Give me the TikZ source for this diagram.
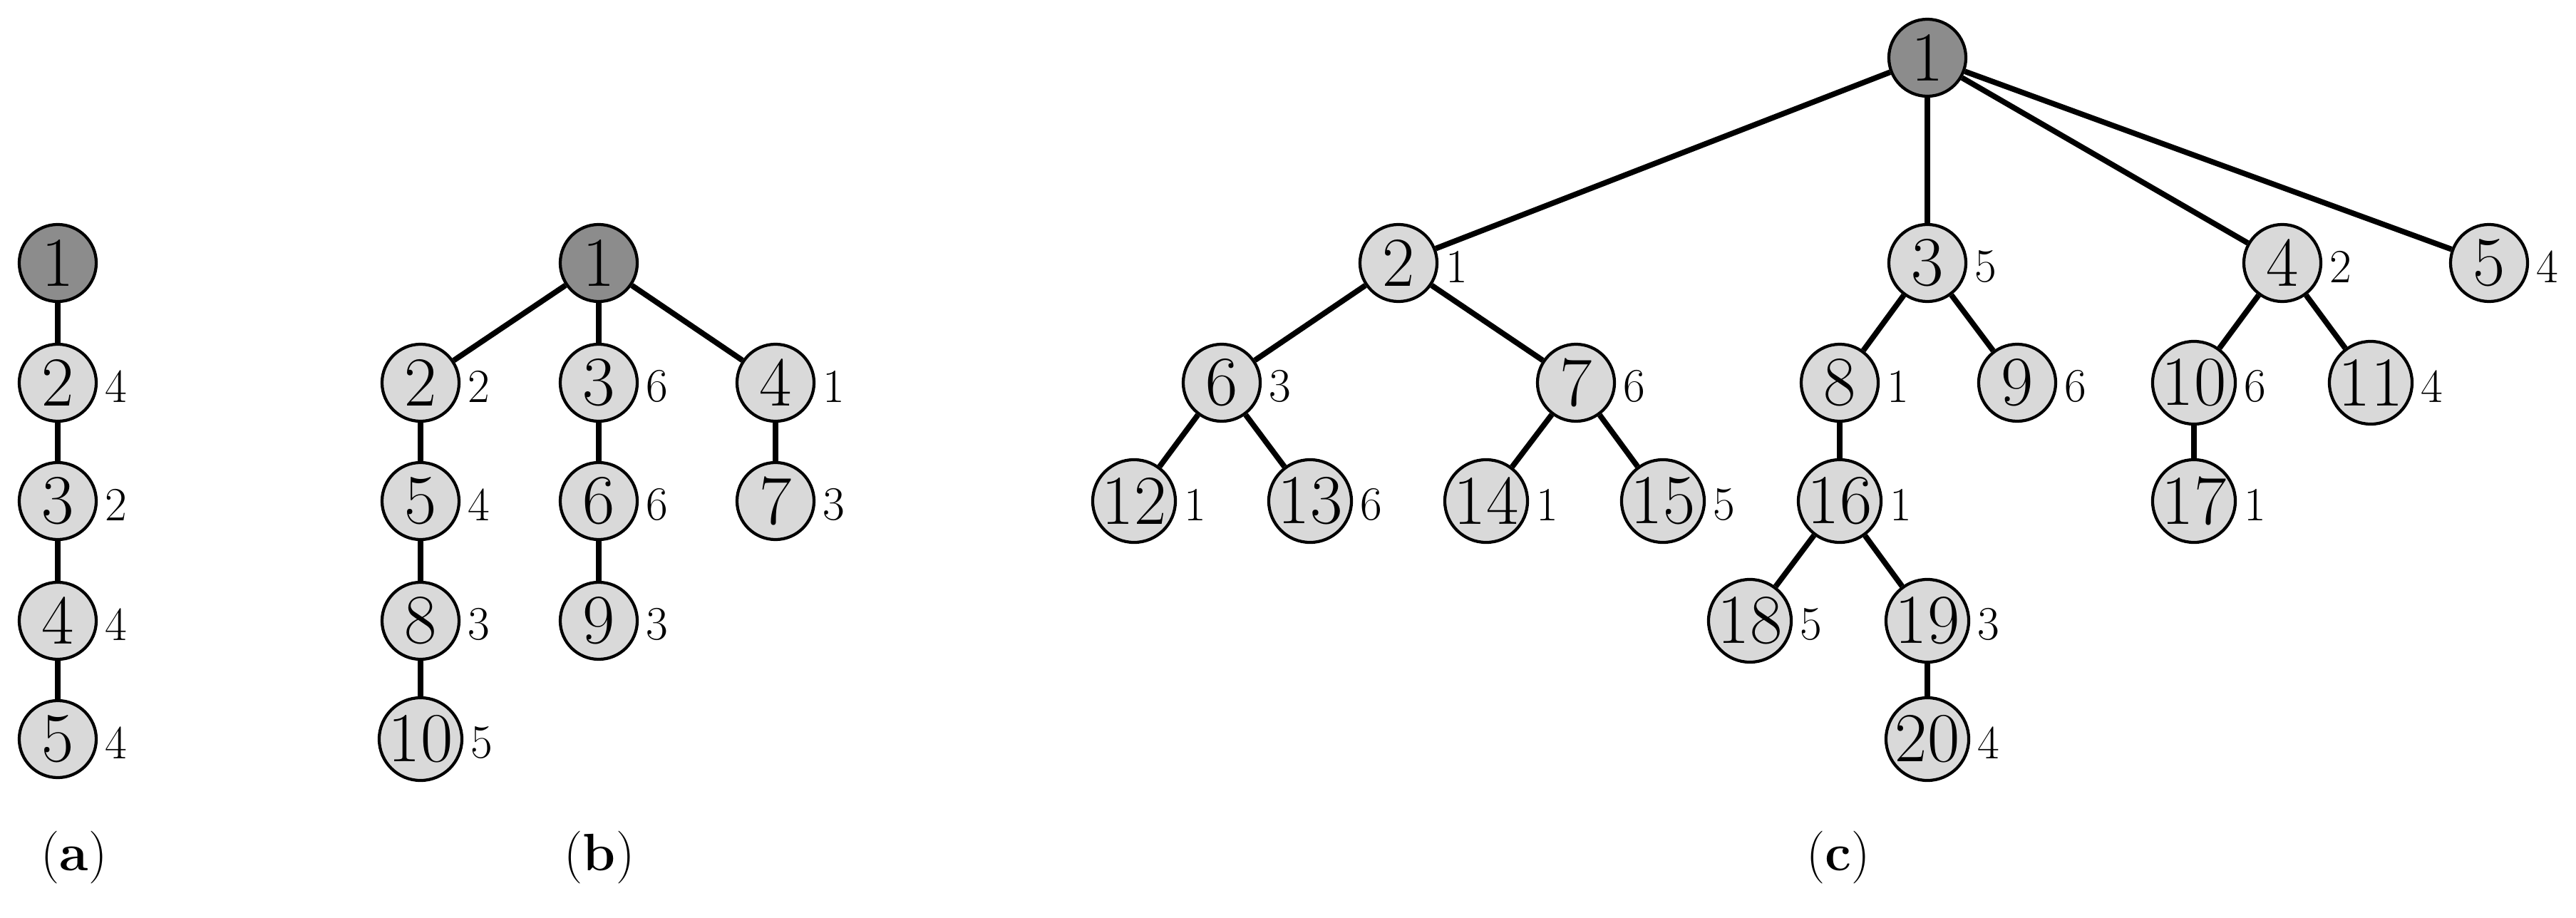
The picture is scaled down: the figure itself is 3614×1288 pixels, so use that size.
\documentclass[tikz,border=0pt]{standalone}
\definecolor{rootfill}{RGB}{140,140,140}
\definecolor{lightfill}{RGB}{217,217,217}
\tikzset{
  vtx/.style={circle, draw, line width=1.2pt, fill=lightfill, minimum size=1.08cm, inner sep=0pt,
    font=\fontsize{28}{30}\selectfont},
  vtxw/.style={vtx, minimum size=1.16cm},
  rootv/.style={vtx, fill=rootfill},
  wt/.style={label={[font=\fontsize{19}{21}\selectfont, inner sep=0pt, label distance=0.1cm, yshift=-0.05cm]0:#1}},
  edge/.style={line width=2.2pt},
  captext/.style={font=\fontsize{21}{25}\selectfont, inner sep=0pt}
}
\newcommand{\nz}[1]{\makebox[0pt]{#1}}
\begin{document}
\begin{tikzpicture}[x=0.01cm, y=-0.01cm]
\useasboundingbox (0,0) rectangle (3614,1288);
% (a)
\node[rootv] (a1) at (81,369) {\nz{1}};
\node[vtx, wt=4] (a2) at (81,537) {\nz{2}};
\node[vtx, wt=2] (a3) at (81,703) {\nz{3}};
\node[vtx, wt=4] (a4) at (81,871) {\nz{4}};
\node[vtx, wt=4] (a5) at (81,1037) {\nz{5}};
\draw[edge] (a1) -- (a2) (a2) -- (a3) (a3) -- (a4) (a4) -- (a5);
% (b)
\node[rootv] (b1) at (840,369) {\nz{1}};
\node[vtx, wt=2] (b2) at (590,537) {\nz{2}};
\node[vtx, wt=6] (b3) at (840,537) {\nz{3}};
\node[vtx, wt=1] (b4) at (1088,537) {\nz{4}};
\node[vtx, wt=4] (b5) at (590,703) {\nz{5}};
\node[vtx, wt=6] (b6) at (840,703) {\nz{6}};
\node[vtx, wt=3] (b7) at (1088,703) {\nz{7}};
\node[vtx, wt=3] (b8) at (590,871) {\nz{8}};
\node[vtx, wt=3] (b9) at (840,871) {\nz{9}};
\node[vtxw, wt=5] (b10) at (590,1037) {\nz{10}};
\draw[edge] (b1) -- (b2) (b1) -- (b3) (b1) -- (b4)
  (b2) -- (b5) (b5) -- (b8) (b8) -- (b10)
  (b3) -- (b6) (b6) -- (b9) (b4) -- (b7);
% (c)
\node[rootv] (c1) at (2704,81) {\nz{1}};
\node[vtx, wt=1] (c2) at (1962,369) {\nz{2}};
\node[vtx, wt=5] (c3) at (2704,369) {\nz{3}};
\node[vtx, wt=2] (c4) at (3202,369) {\nz{4}};
\node[vtx, wt=4] (c5) at (3492,369) {\nz{5}};
\node[vtx, wt=3] (c6) at (1714,537) {\nz{6}};
\node[vtx, wt=6] (c7) at (2211,537) {\nz{7}};
\node[vtx, wt=1] (c8) at (2581,537) {\nz{8}};
\node[vtx, wt=6] (c9) at (2830,537) {\nz{9}};
\node[vtxw, wt=6] (c10) at (3078,537) {\nz{10}};
\node[vtxw, wt=4] (c11) at (3326,537) {\nz{11}};
\node[vtxw, wt=1] (c12) at (1591,703) {\nz{12}};
\node[vtxw, wt=6] (c13) at (1838,703) {\nz{13}};
\node[vtxw, wt=1] (c14) at (2085,703) {\nz{14}};
\node[vtxw, wt=5] (c15) at (2333,703) {\nz{15}};
\node[vtxw, wt=1] (c16) at (2581,703) {\nz{16}};
\node[vtxw, wt=1] (c17) at (3078,703) {\nz{17}};
\node[vtxw, wt=5] (c18) at (2455,871) {\nz{18}};
\node[vtxw, wt=3] (c19) at (2704,871) {\nz{19}};
\node[vtxw, wt=4] (c20) at (2704,1037) {\nz{20}};
\draw[edge] (c1) -- (c2) (c1) -- (c3) (c1) -- (c4) (c1) -- (c5)
  (c2) -- (c6) (c2) -- (c7) (c3) -- (c8) (c3) -- (c9)
  (c4) -- (c10) (c4) -- (c11) (c6) -- (c12) (c6) -- (c13)
  (c7) -- (c14) (c7) -- (c15) (c8) -- (c16) (c10) -- (c17)
  (c16) -- (c18) (c16) -- (c19) (c19) -- (c20);
% captions
\node[captext] (capa) at (104,1203) {(\textbf{a})};
\node[captext] (capb) at (841,1203) {(\textbf{b})};
\node[captext] (capc) at (2579,1203) {(\textbf{c})};
\end{tikzpicture}
\end{document}
